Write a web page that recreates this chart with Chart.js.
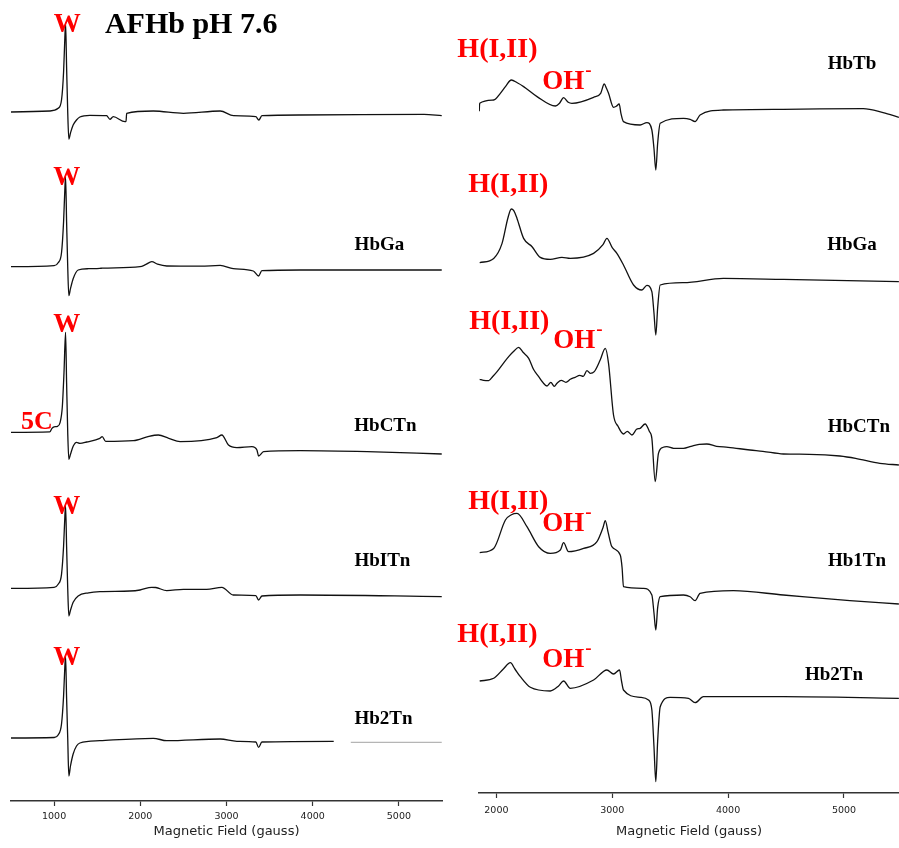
<!DOCTYPE html>
<html>
<head>
<meta charset="utf-8">
<script src="https://cdn.jsdelivr.net/npm/chart.js@4/dist/chart.umd.min.js"></script>
<style>
    html, body { margin: 0; padding: 0; background: #fff; }
    #wrap { position: relative; width: 899px; height: 848px; }
    .panel { position: absolute; top: 0; height: 848px; }
    #left { left: 0; width: 450px; }
    #right { left: 450px; width: 449px; }
</style>
</head>
<body>
<div id="wrap">
    <div class="panel" id="left"><canvas id="leftChart"></canvas></div>
    <div class="panel" id="right"><canvas id="rightChart"></canvas></div>
</div>
<script>
// Spectra: [field (gauss), signal relative to the trace's own baseline]
const leftTicks = [1000, 2000, 3000, 4000, 5000];
const rightTicks = [2000, 3000, 4000, 5000];

const leftNames = ['HbTb', 'HbGa', 'HbCTn', 'HbITn', 'Hb2Tn'];
const leftOffsets = [689, 534.3, 368.7, 212.7, 63];

const leftHbTb = [[500, 0], [950, 1], [1047, 3.7], [1086, 12], [1110, 40], [1125, 75], [1133, 89], [1145, 45],
    [1158, 0], [1171, -27], [1190, -21], [1221, -13], [1260, -8], [1299, -5], [1415, -3.3], [1609, -3.7],
    [1648, -7.3], [1686, -4.7], [1822, -9.7], [1834, -9.7], [1842, -1.3], [2151, 1], [2500, -1.3], [2927, 1],
    [3081, -3.7], [3340, -4.7], [3375, -8], [3411, -3.7], [3857, -3], [5291, -2.3], [5497, -3.7]];
const leftHbGa = [[500, 0], [1000, 1], [1047, 4], [1086, 14], [1110, 45], [1125, 78], [1133, 90], [1145, 45],
    [1158, 0], [1171, -29], [1190, -22], [1221, -12], [1279, -3.3], [1400, -2], [1531, -1.7], [1560, -1.4],
    [1997, 0], [2060, 2], [2133, 5], [2200, 2.5], [2307, 0.7], [2700, 0.5], [2927, 1.3], [3078, -2], [3311, -4.3],
    [3372, -9.3], [3411, -4], [3857, -3.3], [5497, -3.3]];
const leftHbCTn = [[500, 0], [950, 0.5], [975, 4], [1000, 5.5], [1040, 6], [1070, 10], [1095, 25], [1115, 60],
    [1133, 100], [1145, 50], [1158, 0], [1171, -27], [1190, -22], [1221, -14], [1260, -10], [1299, -11],
    [1377, -9.7], [1531, -6], [1558, -4.3], [1598, -9], [1919, -8.3], [2100, -4], [2209, -2.7], [2330, -6],
    [2462, -9.3], [2888, -5.3], [2946, -2.7], [3023, -12.7], [3121, -15.3], [3295, -14.3], [3353, -17.7],
    [3372, -23.7], [3430, -19.3], [3857, -18.3], [4632, -19.3], [5497, -21.7]];
const leftHbITn = [[500, 0], [1000, 1], [1047, 4], [1086, 14], [1110, 42], [1125, 72], [1133, 83], [1145, 42],
    [1158, 0], [1171, -27.7], [1190, -22], [1221, -14], [1279, -7.7], [1400, -4.5], [1531, -3.3], [1880, -2.7],
    [1997, -1.7], [2133, 1], [2180, 0.8], [2307, -2.3], [2500, -1], [2770, -1], [2946, 1], [3078, -6.7],
    [3340, -7.3], [3372, -11.7], [3411, -7.7], [3857, -6.7], [5497, -8.3]];
const leftHb2Tn = [[500, 0], [1000, 0.5], [1047, 3], [1086, 14], [1110, 42], [1125, 72], [1133, 82], [1145, 40],
    [1158, 0], [1171, -38], [1190, -28], [1221, -16], [1260, -8], [1299, -5], [1531, -2.7], [2151, -0.3],
    [2307, -2.7], [2927, -1], [3121, -3.3], [3340, -4], [3372, -9.3], [3411, -4], [4244, -3.3], [4300, null],
    [4442, -4.3], [5497, -4.3]];

const rightNames = ['HbTb', 'HbGa', 'HbCTn', 'Hb1Tn', 'Hb2Tn'];
const rightOffsets = [689.7, 530.3, 413.7, 240.3, 112];

const rightHbTb = [[1852, -8], [1856, 0], [1977, 3.3], [2034, 10], [2080, 17], [2129, 23.3], [2180, 20.5],
    [2235, 16.7], [2351, 6.7], [2509, -2.7], [2545, 0], [2580, 5.7], [2620, 1], [2652, 0], [2839, 6], [2900, 10],
    [2931, 19.3], [2950, 15], [2968, 10], [3011, -4], [3035, -3], [3060, -0.7], [3075, -10], [3097, -18.3],
    [3241, -21.7], [3299, -19.3], [3342, -26.7], [3360, -45], [3376, -66.7], [3392, -40], [3414, -20],
    [3615, -15], [3672, -16], [3715, -18.3], [3758, -11.7], [3959, -6.7], [4477, -6], [5166, -5.3],
    [5338, -9.3], [5474, -14]];
const rightHbGa = [[1856, 0], [1977, 4.3], [2049, 19.3], [2100, 45], [2129, 53.7], [2150, 52], [2178, 44.3],
    [2235, 24.3], [2308, 16], [2379, 5.3], [2465, 3.3], [2566, 5.3], [2638, 4.3], [2839, 9.3], [2920, 18],
    [2954, 24.3], [3000, 15], [3040, 9.3], [3097, -2.3], [3184, -22.3], [3256, -27.3], [3299, -22.7],
    [3342, -29], [3360, -50], [3376, -72.3], [3392, -45], [3414, -22.3], [3615, -20], [3959, -15.7],
    [4477, -16.7], [5474, -19]];
const rightHbCTn = [[1856, 0], [1890, -1], [1934, -1.3], [1970, 3], [2006, 7.7], [2060, 16], [2106, 22.7],
    [2150, 28], [2192, 32], [2230, 27], [2279, 21], [2320, 10], [2365, 2.7], [2400, -3], [2437, -6.7],
    [2470, -3], [2500, -7], [2523, -4], [2560, -1], [2600, -3], [2638, 0], [2680, 2], [2720, 4], [2750, 3],
    [2782, 8.7], [2810, 6], [2845, 7.7], [2896, 19.3], [2940, 31], [2968, 16], [3011, -35.7], [3050, -47],
    [3097, -54.7], [3130, -52], [3170, -55.7], [3210, -50], [3241, -49], [3284, -44.7], [3320, -52],
    [3342, -59], [3371, -102.3], [3399, -74], [3440, -68], [3471, -67.3], [3530, -69], [3615, -69],
    [3680, -67], [3750, -65], [3816, -64.7], [3900, -67], [4000, -68], [4189, -70.7], [4300, -72],
    [4477, -74.7], [4700, -75], [4965, -76.7], [5100, -79], [5310, -84], [5474, -85.7]];
const rightHb1Tn = [[1856, 0], [1977, 4.3], [2078, 32.7], [2130, 38], [2178, 39.3], [2264, 26], [2365, 6],
    [2465, -0.7], [2552, 2.7], [2580, 10], [2623, 1], [2753, 4.3], [2868, 11], [2920, 25], [2940, 32],
    [2965, 20], [2997, 6], [3069, -2.3], [3085, -15], [3097, -34], [3270, -35.7], [3342, -42.3], [3360, -60],
    [3376, -77.3], [3392, -55], [3414, -44], [3615, -42.3], [3672, -44], [3715, -48], [3758, -40.7],
    [4046, -38], [4477, -42.3], [5051, -48], [5474, -51.3]];
const rightHb2Tn = [[1856, 0], [1977, 2.7], [2060, 12], [2121, 18.3], [2160, 12], [2207, 4.3], [2293, -6.3],
    [2465, -10], [2537, -5], [2580, 0], [2638, -7.3], [2839, 1], [2954, 11], [3011, 7], [3063, 11], [3080, 0],
    [3097, -9], [3241, -16.3], [3313, -19], [3342, -29], [3360, -65], [3376, -100.7], [3392, -60],
    [3414, -25.7], [3500, -16.3], [3658, -17.3], [3715, -21.7], [3787, -15.7], [4477, -15.7], [5474, -17.3]];

const leftTraces = [leftHbTb, leftHbGa, leftHbCTn, leftHbITn, leftHb2Tn];
const rightTraces = [rightHbTb, rightHbGa, rightHbCTn, rightHb1Tn, rightHb2Tn];

// Annotations, anchored in data units (field, stacked height)
const SERIF = '"Liberation Serif", "Times New Roman", serif';
const SANS = '"DejaVu Sans", Verdana, sans-serif';
const leftLabels = [
    { text: 'W', x: 1153, y: 776, size: 27, color: '#ff0000' },
    { text: 'AFHb pH 7.6', x: 2590, y: 776, size: 30, color: '#000' },
    { text: 'W', x: 1148, y: 623, size: 27, color: '#ff0000' },
    { text: 'W', x: 1148, y: 476, size: 27, color: '#ff0000' },
    { text: '5C', x: 799, y: 379, size: 26, color: '#ff0000' },
    { text: 'W', x: 1148, y: 294, size: 27, color: '#ff0000' },
    { text: 'W', x: 1148, y: 143, size: 27, color: '#ff0000' },
    { text: 'HbGa', x: 4774, y: 556, size: 19, color: '#000' },
    { text: 'HbCTn', x: 4844, y: 375, size: 19, color: '#000' },
    { text: 'HbITn', x: 4809, y: 240, size: 19, color: '#000' },
    { text: 'Hb2Tn', x: 4821, y: 82, size: 19, color: '#000' },
];
const rightLabels = [
    { text: 'H(I,II)', x: 2009, y: 743, size: 28, color: '#ff0000' },
    { text: 'OH', sup: '-', x: 2578, y: 711, size: 27, color: '#ff0000' },
    { text: 'HbTb', x: 5069, y: 729, size: 19, color: '#000' },
    { text: 'H(I,II)', x: 2103, y: 608, size: 28, color: '#ff0000' },
    { text: 'HbGa', x: 5069, y: 548, size: 19, color: '#000' },
    { text: 'H(I,II)', x: 2112, y: 471, size: 28, color: '#ff0000' },
    { text: 'OH', sup: '-', x: 2672, y: 452, size: 27, color: '#ff0000' },
    { text: 'HbCTn', x: 5129, y: 366, size: 19, color: '#000' },
    { text: 'H(I,II)', x: 2103, y: 291, size: 28, color: '#ff0000' },
    { text: 'OH', sup: '-', x: 2578, y: 269, size: 27, color: '#ff0000' },
    { text: 'Hb1Tn', x: 5112, y: 232, size: 19, color: '#000' },
    { text: 'H(I,II)', x: 2009, y: 158, size: 28, color: '#ff0000' },
    { text: 'OH', sup: '-', x: 2578, y: 133, size: 27, color: '#ff0000' },
    { text: 'Hb2Tn', x: 4914, y: 118, size: 19, color: '#000' },
];

const spectraLabels = {
    id: 'spectraLabels',
    afterDraw(chart, args, opts) {
        const { ctx, scales: { x, y } } = chart;
        ctx.save();
        ctx.textBaseline = 'middle';
        for (const item of opts.items) {
            const px = x.getPixelForValue(item.x);
            const py = y.getPixelForValue(item.y);
            ctx.font = `bold ${item.size}px ${SERIF}`;
            ctx.fillStyle = item.color;
            ctx.textAlign = 'center';
            ctx.fillText(item.text, px, py);
            if (item.sup) {
                const w = ctx.measureText(item.text).width;
                ctx.font = `bold ${Math.round(item.size * 0.7)}px ${SERIF}`;
                ctx.textAlign = 'left';
                ctx.fillText(item.sup, px + w / 2 + 1, py - item.size * 0.42);
            }
        }
        ctx.restore();
    }
};

function buildDatasets(traces, offsets, names) {
    return traces.map((trace, i) => ({
        label: names[i],
        data: trace.map(([g, v]) => ({ x: g, y: v === null ? null : offsets[i] + v })),
        borderColor: '#111',
        borderWidth: 1.3,
        pointRadius: 0,
        cubicInterpolationMode: 'monotone',
        fill: false,
        spanGaps: false,
        borderJoinStyle: 'round',
        // the last stretch of the bottom-left trace is printed faint
        segment: names[i] === 'Hb2Tn' && traces === leftTraces
            ? { borderColor: ctx => (ctx.p0.parsed.x >= 4400 ? '#b5b5b5' : '#111') }
            : undefined,
    }));
}

function xAxis(min, max, ticks, height, tickPad) {
    return {
        type: 'linear',
        min: min,
        max: max,
        afterBuildTicks: (scale) => { scale.ticks = ticks.map(v => ({ value: v })); },
        afterFit: (scale) => { scale.height = height; },
        grid: { drawOnChartArea: false, drawTicks: true, tickLength: 5, tickColor: '#333', tickWidth: 1.2 },
        border: { display: true, color: '#333', width: 1.5 },
        ticks: {
            color: '#222',
            padding: tickPad,
            maxRotation: 0,
            callback: (value) => String(value),
            font: { family: SANS, size: 9.5 },
        },
        title: {
            display: true,
            text: 'Magnetic Field (gauss)',
            color: '#222',
            font: { family: SANS, size: 13 },
            padding: { top: 4, bottom: 9 },
        },
    };
}

function renderColumn(canvasId, traces, offsets, names, labels, range, ticks, axisHeight, tickPad, pad) {
    const canvas = document.getElementById(canvasId);
    const yMax = 848 - axisHeight;
    return new Chart(canvas.getContext('2d'), {
        type: 'line',
        data: { datasets: buildDatasets(traces, offsets, names) },
        options: {
            responsive: true,
            maintainAspectRatio: false,
            animation: false,
            layout: { padding: pad },
            plugins: {
                legend: { display: false },
                tooltip: { enabled: false },
                spectraLabels: { items: labels },
            },
            scales: {
                x: xAxis(range[0], range[1], ticks, axisHeight, tickPad),
                y: { display: false, min: 0, max: yMax },
            },
        },
        plugins: [spectraLabels],
    });
}

renderColumn('leftChart', leftTraces, leftOffsets, leftNames, leftLabels, [500, 5500], leftTicks, 47, 5,
    { left: 11, right: 8, top: 0, bottom: 0 });
renderColumn('rightChart', rightTraces, rightOffsets, rightNames, rightLabels, [1850, 5475], rightTicks, 55, 7,
    { left: 29, right: 0, top: 0, bottom: 0 });
</script>
</body>
</html>
